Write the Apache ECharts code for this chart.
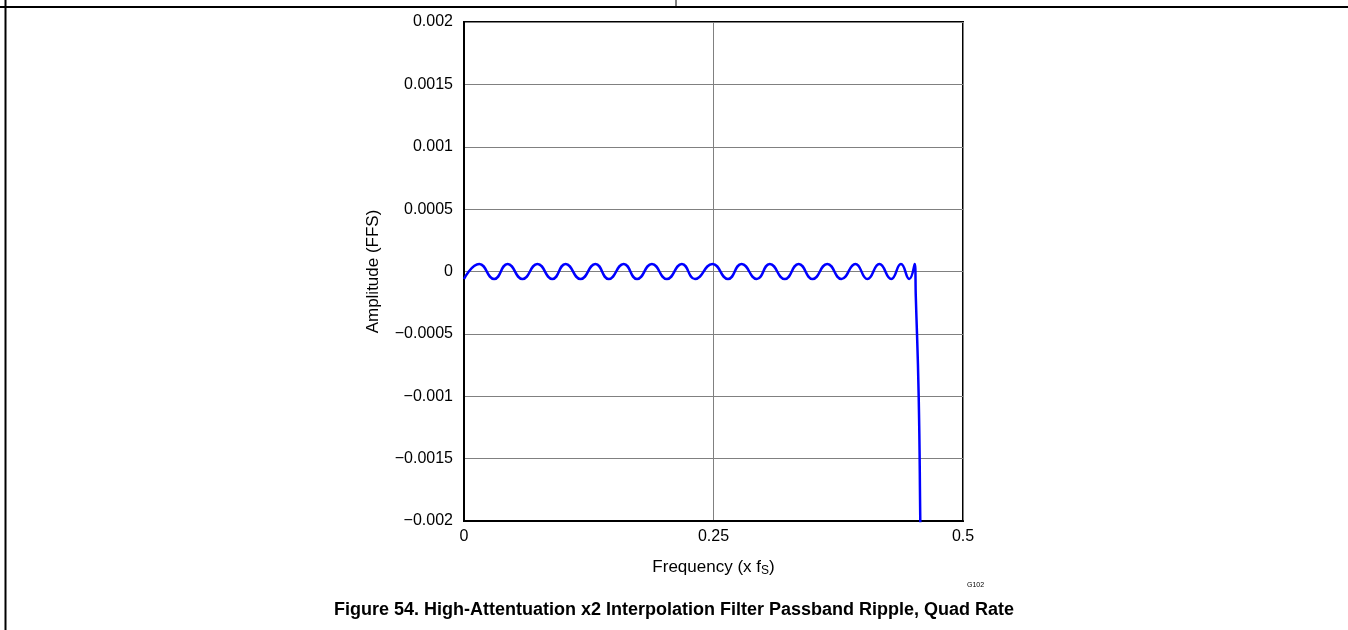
<!DOCTYPE html>
<html>
<head>
<meta charset="utf-8">
<script src="https://cdn.jsdelivr.net/npm/echarts@6/dist/echarts.min.js"></script>
<style>
  html, body { margin: 0; padding: 0; background: #fff; }
  #chart { width: 1348px; height: 630px; }
</style>
</head>
<body>
<div id="chart"></div>
<script>
// frequency (x fS) points: ripple peaks / troughs, then the roll-off
var freq = [0, 0.0153, 0.0302, 0.0437, 0.0586, 0.0736, 0.0885, 0.1018, 0.1168, 0.1317,
  0.1450, 0.1600, 0.1734, 0.1883, 0.2033, 0.2183, 0.2315, 0.2490, 0.2645, 0.2781,
  0.2934, 0.3064, 0.3214, 0.3353, 0.3493, 0.3640, 0.3782, 0.3922, 0.4042, 0.4162,
  0.4281, 0.4378, 0.4461, 0.4516,
  0.4527, 0.4556, 0.4572, 0.4580];
// amplitude (FFS)
var amp = [-0.00006, 0.00006, -0.00006, 0.00006, -0.00006, 0.00006, -0.00006, 0.00006, -0.00006, 0.00006,
  -0.00006, 0.00006, -0.00006, 0.00006, -0.00006, 0.00006, -0.00006, 0.00006, -0.00006, 0.00006,
  -0.00006, 0.00006, -0.00006, 0.00006, -0.00006, 0.00006, -0.00006, 0.00006, -0.00006, 0.00006,
  -0.00006, 0.00006, -0.00006, 0.00006,
  -0.0002, -0.001, -0.002, -0.0026];
var xTicks = [0, 0.25, 0.5];
var yTicks = [-0.002, -0.0015, -0.001, -0.0005, 0, 0.0005, 0.001, 0.0015, 0.002];

var chart = echarts.init(document.getElementById("chart"));
var pts = [];
for (var i = 0; i < freq.length; i++) {
  pts.push([freq[i], amp[i]]);
}
var font = "Liberation Sans, Arial, sans-serif";

var option = {
  animation: false,
  backgroundColor: "#fff",
  textStyle: { fontFamily: font },
  grid: {
    left: 464, top: 22, width: 499, height: 499,
    show: true, borderColor: "#000", borderWidth: 2
  },
  // caption + G102 tag
  title: [
    {
      text: "Figure 54. High-Attentuation x2 Interpolation Filter Passband Ripple, Quad Rate",
      left: "center", top: 596,
      textStyle: { fontSize: 18, fontWeight: "bold", color: "#000", fontFamily: font }
    },
    {
      text: "G102", left: 967, top: 582, padding: 0,
      textStyle: { fontSize: 7, fontWeight: "normal", color: "#000", fontFamily: font }
    }
  ],
  xAxis: {
    type: "value",
    min: xTicks[0], max: xTicks[xTicks.length - 1], interval: 0.25,
    name: "Frequency (x f{sub|S})",
    nameLocation: "middle", nameGap: 36,
    nameTextStyle: {
      fontSize: 17, color: "#000",
      rich: { sub: { fontSize: 12, verticalAlign: "bottom", padding: [8, 0, 0, 0], color: "#000" } }
    },
    axisLine: { show: true, onZero: false, lineStyle: { color: "#000", width: 2 } },
    axisTick: { show: false },
    axisLabel: { fontSize: 16, color: "#000", margin: 8 },
    splitLine: { show: true, lineStyle: { color: "#808080", width: 1 } }
  },
  yAxis: {
    type: "value",
    min: yTicks[0], max: yTicks[yTicks.length - 1], interval: 0.0005,
    name: "Amplitude (FFS)",
    nameLocation: "middle", nameGap: 82, nameRotate: 90,
    nameTextStyle: { fontSize: 17, color: "#000" },
    axisLine: { show: true, onZero: false, lineStyle: { color: "#000", width: 2 } },
    axisTick: { show: false },
    axisLabel: {
      fontSize: 16, color: "#000", margin: 11,
      formatter: function (v) { return String(v).replace("-", "\u2212"); }
    },
    splitLine: { show: true, lineStyle: { color: "#808080", width: 1 } }
  },
  series: [
    {
      type: "line",
      data: pts,
      smooth: 0.5,
      symbol: "none",
      clip: true,
      lineStyle: { color: "#0000ff", width: 2.5 }
    }
  ],
  // page frame lines of the datasheet
  graphic: [
    { type: "line", shape: { x1: 0, y1: 7, x2: 1348, y2: 7 }, style: { stroke: "#000", lineWidth: 2 } },
    { type: "line", shape: { x1: 5.5, y1: 0, x2: 5.5, y2: 630 }, style: { stroke: "#000", lineWidth: 2 } },
    { type: "line", shape: { x1: 676, y1: 0, x2: 676, y2: 7 }, style: { stroke: "#000", lineWidth: 1 } }
  ]
};
chart.setOption(option);
</script>
</body>
</html>
